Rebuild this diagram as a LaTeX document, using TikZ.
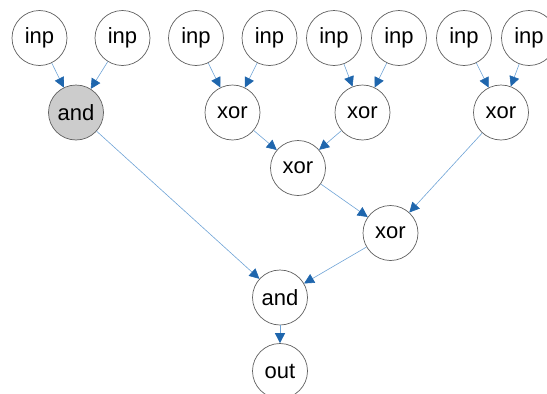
\documentclass[tikz,border=0pt]{standalone}
\usepackage{fontspec}
\setmainfont{Liberation Sans}
\usetikzlibrary{arrows.meta}
\definecolor{edgeblue}{HTML}{6FA3D6}
\definecolor{tipblue}{HTML}{1F66AD}
\definecolor{nodegray}{HTML}{CCCCCC}
\definecolor{ringgray}{HTML}{606060}
\tikzset{
  gate/.style={circle, draw=ringgray, line width=0.7pt, fill=white, minimum size=55pt, inner sep=0pt, font=\fontsize{22}{25}\selectfont},
  grayed/.style={gate, fill=nodegray},
  wire/.style={draw=edgeblue, line width=0.6pt, -{Triangle[length=10pt,width=10pt,color=tipblue]}}
}
\begin{document}
\begin{tikzpicture}[x=1pt,y=-1pt]
\useasboundingbox (0,0) rectangle (547,394);
\node[gate] (i1) at (39.5,38) {inp};
\node[gate] (i2) at (122.5,38) {inp};
\node[gate] (i3) at (196,38) {inp};
\node[gate] (i4) at (269.5,38) {inp};
\node[gate] (i5) at (334,38) {inp};
\node[gate] (i6) at (399,38) {inp};
\node[gate] (i7) at (464,38) {inp};
\node[gate] (i8) at (529,38) {inp};
\node[grayed] (a1) at (76,112.5) {and};
\node[gate] (x1) at (232.5,112.5) {xor};
\node[gate] (x2) at (362.5,112.5) {xor};
\node[gate] (x3) at (501,112.5) {xor};
\node[gate] (x4) at (298,168) {xor};
\node[gate] (x5) at (390.5,233) {xor};
\node[gate] (a2) at (280,297.5) {and};
\node[gate] (o) at (280,371) {out};
\draw[wire] (i1) -- (a1);
\draw[wire] (i2) -- (a1);
\draw[wire] (i3) -- (x1);
\draw[wire] (i4) -- (x1);
\draw[wire] (i5) -- (x2);
\draw[wire] (i6) -- (x2);
\draw[wire] (i7) -- (x3);
\draw[wire] (i8) -- (x3);
\draw[wire] (x1) -- (x4);
\draw[wire] (x2) -- (x4);
\draw[wire] (x4) -- (x5);
\draw[wire] (x3) -- (x5);
\draw[wire] (a1) -- (a2);
\draw[wire] (x5) -- (a2);
\draw[wire] (a2) -- (o);
\end{tikzpicture}
\end{document}
